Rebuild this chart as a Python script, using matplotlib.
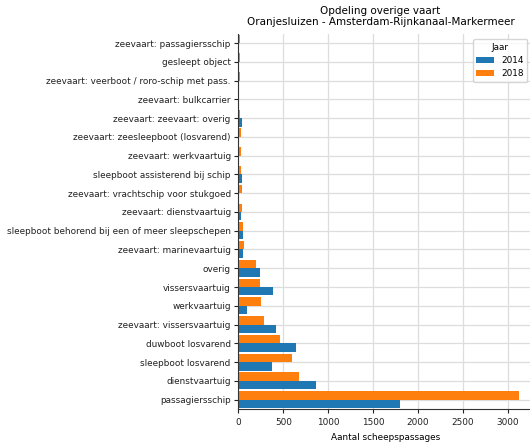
import matplotlib
matplotlib.use("Agg")
import matplotlib.pyplot as plt
import numpy as np

# categories from bottom to top
categories = [
    "passagiersschip",
    "dienstvaartuig",
    "sleepboot losvarend",
    "duwboot losvarend",
    "zeevaart: vissersvaartuig",
    "werkvaartuig",
    "vissersvaartuig",
    "overig",
    "zeevaart: marinevaartuig",
    "sleepboot behorend bij een of meer sleepschepen",
    "zeevaart: dienstvaartuig",
    "zeevaart: vrachtschip voor stukgoed",
    "sleepboot assisterend bij schip",
    "zeevaart: werkvaartuig",
    "zeevaart: zeesleepboot (losvarend)",
    "zeevaart: zeevaart: overig",
    "zeevaart: bulkcarrier",
    "zeevaart: veerboot / roro-schip met pass.",
    "gesleept object",
    "zeevaart: passagiersschip",
]
values_2014 = [1800, 866, 375, 643, 420, 93, 386, 242, 50, 48, 30, 11, 41, 11, 8, 41, 12, 6, 6, 6]
values_2018 = [3122, 676, 597, 464, 286, 253, 242, 197, 62, 52, 40, 41, 30, 26, 26, 17, 9, 14, 14, 14]
series_labels = ["2014", "2018"]

W, H = 530, 443
fig = plt.figure(figsize=(W / 100, H / 100), dpi=100)
ax = fig.add_axes([238.3 / W, 34 / H, 294.5 / W, 375.3 / H])

y = np.arange(len(categories))
h = 0.45
ax.barh(y - h / 2, values_2014, height=h, color="#1f77b4", label=series_labels[0], zorder=2)
ax.barh(y + h / 2, values_2018, height=h, color="#ff7f0e", label=series_labels[1], zorder=2)

ax.set_ylim(-0.5, len(categories) - 0.5)
ax.set_xlim(0, max(values_2018) * 1.05)
ax.set_yticks(y)
ax.set_yticklabels(categories)
ax.set_xticks([0, 500, 1000, 1500, 2000, 2500, 3000])
ax.tick_params(labelsize=6.4, length=3, width=0.8, colors="#222222", pad=2.5)
ax.tick_params(axis="x", pad=3.5)
ax.set_axisbelow(True)
ax.grid(True, color="#dddddd", linewidth=0.9)
for s in ["top", "right"]:
    ax.spines[s].set_visible(False)
for s in ["left", "bottom"]:
    ax.spines[s].set_color("#333333")
ax.set_xlabel("Aantal scheepspassages", fontsize=6.4, labelpad=4)

leg = ax.legend(title="Jaar", fontsize=6.4, title_fontsize=6.4, loc="upper right",
                frameon=True, borderaxespad=0.6)
leg.get_frame().set_edgecolor("#cccccc")

fig.text(380.5 / W, 1 - 6.5 / H, "Opdeling overige vaart\nOranjesluizen - Amsterdam-Rijnkanaal-Markermeer",
         ha="center", va="top", fontsize=7.5, linespacing=1.1)

fig.savefig("out.png", dpi=100)
